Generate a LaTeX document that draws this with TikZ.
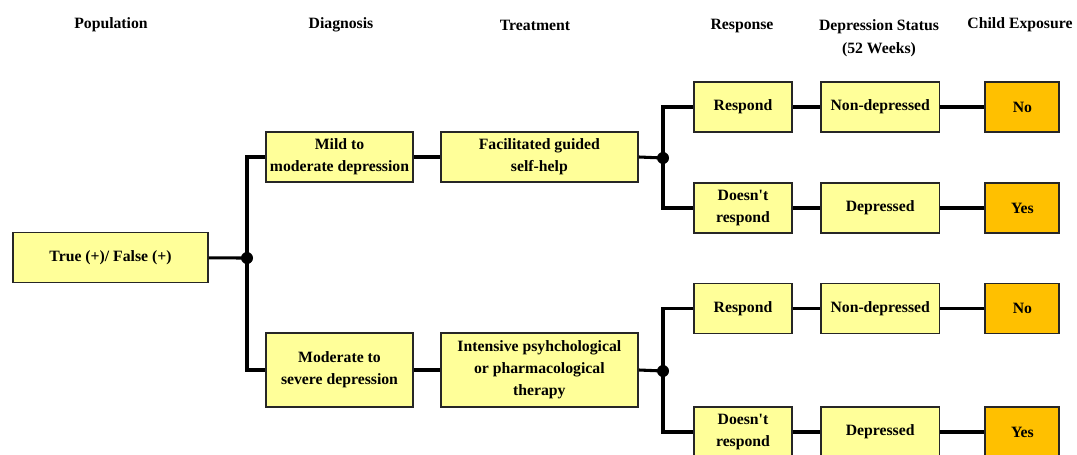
\documentclass[tikz,border=0pt]{standalone}
\usepackage{fontspec}
\setmainfont{Liberation Serif}
\usetikzlibrary{positioning}
\definecolor{boxyellow}{HTML}{FFFF99}
\definecolor{boxorange}{HTML}{FFC000}
\tikzset{
  treebox/.style={draw=black!85, fill=boxyellow, line width=1.4pt,
    align=center, inner sep=1.5pt, minimum height=37.5pt,
    font=\bfseries\fontsize{11.8}{16.5}\selectfont},
  outbox/.style={treebox, fill=boxorange, minimum width=55.5pt},
  respbox/.style={treebox, minimum width=73.5pt},
  statbox/.style={treebox, minimum width=89pt},
  treeline/.style={line width=2.3pt, draw=black},
  junction/.style={circle, fill=black, inner sep=0pt, minimum size=9pt},
  colhead/.style={align=center, font=\bfseries\fontsize{11.8}{17.5}\selectfont}
}

\begin{document}
\begin{tikzpicture}[x=0.75pt, y=-0.75pt]
  \useasboundingbox (0,0) rectangle (1077,454);
  \clip (0,0) rectangle (1077,454);

  % column headings
  \node[colhead] (hpop) at (111,25) {Population};
  \node[colhead] (hdiag) at (341,25) {Diagnosis};
  \node[colhead] (htreat) at (535,25) {Treatment};
  \node[colhead] (hresp) at (742,26) {Response};
  \node[colhead] (hstat) at (879,38.5) {Depression Status\\(52 Weeks)};
  \node[colhead] (hexp) at (1020,25) {Child Exposure};

  % population and diagnosis
  \node[treebox, minimum width=146pt] (pop) at (110.5,257.5)
    {True (+)/ False (+)};
  \node[junction] (jpop) at (247,258) {};
  \node[treebox, minimum width=110pt] (mild) at (339.5,157)
    {Mild to\\moderate depression};
  \node[treebox, minimum width=110pt, minimum height=55.5pt] (severe)
    at (339.5,370) {Moderate to\\severe depression};

  % treatment
  \node[treebox, minimum width=148pt, right=19.5pt of mild] (selfhelp)
    {Facilitated guided\\self-help};
  \node[treebox, minimum width=148pt, minimum height=55pt,
    right=19.5pt of severe] (therapy)
    {Intensive psyhchological\\or pharmacological\\therapy};
  \node[junction] (jmild) at (663,158) {};
  \node[junction] (jsevere) at (663,371) {};

  % mild branch outcomes
  \node[respbox] (resp1) at (743,107) {Respond};
  \node[statbox, right=20.25pt of resp1] (nondep1) {Non-depressed};
  \node[outbox, right=33pt of nondep1] (exp1) {No};
  \node[respbox] (noresp1) at (743,208) {Doesn\textquotesingle t\\respond};
  \node[statbox, right=20.25pt of noresp1] (dep1) {Depressed};
  \node[outbox, right=33pt of dep1] (exp2) {Yes};

  % severe branch outcomes
  \node[respbox] (resp2) at (743,308.5) {Respond};
  \node[statbox, right=20.25pt of resp2] (nondep2) {Non-depressed};
  \node[outbox, right=33pt of nondep2] (exp3) {No};
  \node[respbox] (noresp2) at (743,432) {Doesn\textquotesingle t\\respond};
  \node[statbox, right=20.25pt of noresp2] (dep2) {Depressed};
  \node[outbox, right=33pt of dep2] (exp4) {Yes};

  % connectors
  \draw[treeline] (pop) -- (jpop.center);
  \draw[treeline] (jpop.center) |- (mild.west);
  \draw[treeline] (jpop.center) |- (severe.west);
  \draw[treeline] (mild) -- (selfhelp);
  \draw[treeline] (severe) -- (therapy);
  \draw[treeline] (selfhelp.east) -- (jmild.center);
  \draw[treeline] (therapy.east) -- (jsevere.center);
  \draw[treeline] (jmild.center) |- (resp1.west);
  \draw[treeline] (jmild.center) |- (noresp1.west);
  \draw[treeline] (jsevere.center) |- (resp2.west);
  \draw[treeline] (jsevere.center) |- (noresp2.west);
  \draw[treeline] (resp1) -- (nondep1);
  \draw[treeline] (nondep1) -- (exp1);
  \draw[treeline] (noresp1) -- (dep1);
  \draw[treeline] (dep1) -- (exp2);
  \draw[treeline] (resp2) -- (nondep2);
  \draw[treeline] (nondep2) -- (exp3);
  \draw[treeline] (noresp2) -- (dep2);
  \draw[treeline] (dep2) -- (exp4);
\end{tikzpicture}
\end{document}
